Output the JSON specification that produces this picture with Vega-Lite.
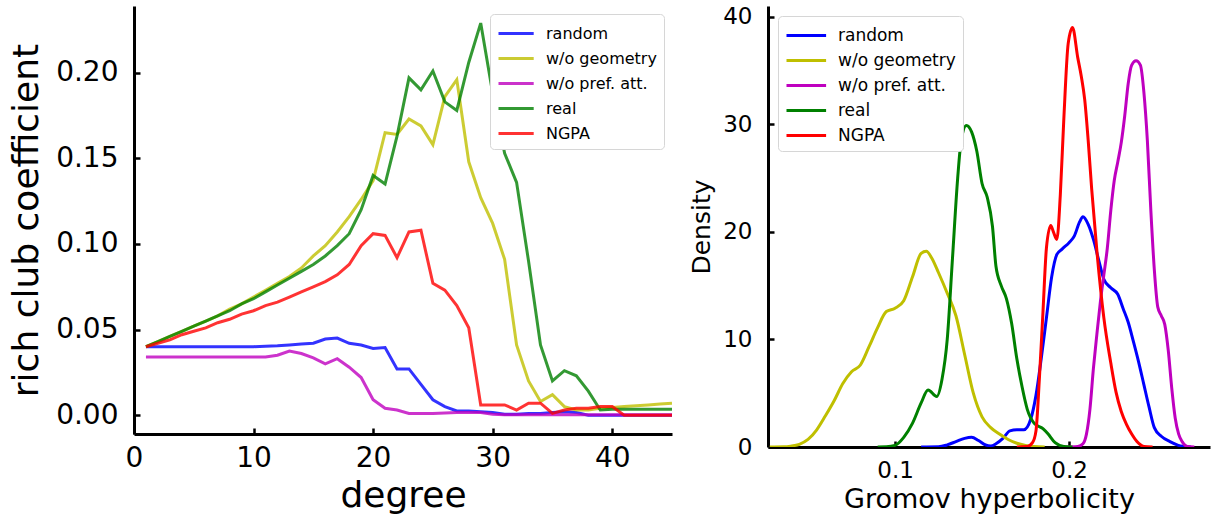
{
  "$schema": "https://vega.github.io/schema/vega-lite/v6.json",
  "padding": {"left": 8, "top": 5, "right": 4, "bottom": 4},
  "background": "white",
  "spacing": 96,
  "bounds": "flush",
  "config": {
    "font": "DejaVu Sans",
    "view": {"stroke": null},
    "axis": {"grid": false, "domainColor": "black", "domainWidth": 3, "tickColor": "black", "tickWidth": 2.5, "tickSize": -6, "labelColor": "black", "titleColor": "black", "titleFontWeight": "normal", "labelFont": "DejaVu Sans", "titleFont": "DejaVu Sans"},
    "legend": {"labelFont": "DejaVu Sans", "labelColor": "black"}
  },
  "resolve": {"scale": {"color": "independent"}, "legend": {"color": "independent"}},
  "datasets": {
    "rc": [
      {"deg":1,"model":"random","v":0.040},{"deg":2,"model":"random","v":0.040},{"deg":3,"model":"random","v":0.040},{"deg":4,"model":"random","v":0.040},{"deg":5,"model":"random","v":0.040},{"deg":6,"model":"random","v":0.040},{"deg":7,"model":"random","v":0.040},{"deg":8,"model":"random","v":0.040},{"deg":9,"model":"random","v":0.040},{"deg":10,"model":"random","v":0.040},{"deg":11,"model":"random","v":0.0402},{"deg":12,"model":"random","v":0.0405},{"deg":13,"model":"random","v":0.041},{"deg":14,"model":"random","v":0.0415},{"deg":15,"model":"random","v":0.042},{"deg":16,"model":"random","v":0.0445},{"deg":17,"model":"random","v":0.045},{"deg":18,"model":"random","v":0.042},{"deg":19,"model":"random","v":0.041},{"deg":20,"model":"random","v":0.039},{"deg":21,"model":"random","v":0.0395},{"deg":22,"model":"random","v":0.027},{"deg":23,"model":"random","v":0.027},{"deg":24,"model":"random","v":0.018},{"deg":25,"model":"random","v":0.009},{"deg":26,"model":"random","v":0.005},{"deg":27,"model":"random","v":0.0025},{"deg":28,"model":"random","v":0.0025},{"deg":29,"model":"random","v":0.002},{"deg":30,"model":"random","v":0.0015},{"deg":31,"model":"random","v":0.0005},{"deg":32,"model":"random","v":0.0005},{"deg":33,"model":"random","v":0.001},{"deg":34,"model":"random","v":0.001},{"deg":35,"model":"random","v":0.0015},{"deg":36,"model":"random","v":0.002},{"deg":37,"model":"random","v":0.0015},{"deg":38,"model":"random","v":0},{"deg":39,"model":"random","v":0},{"deg":40,"model":"random","v":0},{"deg":41,"model":"random","v":0},{"deg":42,"model":"random","v":0},{"deg":43,"model":"random","v":0},{"deg":44,"model":"random","v":0},{"deg":45,"model":"random","v":0},
      {"deg":1,"model":"w/o geometry","v":0.040},{"deg":2,"model":"w/o geometry","v":0.043},{"deg":3,"model":"w/o geometry","v":0.046},{"deg":4,"model":"w/o geometry","v":0.049},{"deg":5,"model":"w/o geometry","v":0.052},{"deg":6,"model":"w/o geometry","v":0.055},{"deg":7,"model":"w/o geometry","v":0.058},{"deg":8,"model":"w/o geometry","v":0.062},{"deg":9,"model":"w/o geometry","v":0.065},{"deg":10,"model":"w/o geometry","v":0.069},{"deg":11,"model":"w/o geometry","v":0.073},{"deg":12,"model":"w/o geometry","v":0.077},{"deg":13,"model":"w/o geometry","v":0.081},{"deg":14,"model":"w/o geometry","v":0.086},{"deg":15,"model":"w/o geometry","v":0.093},{"deg":16,"model":"w/o geometry","v":0.099},{"deg":17,"model":"w/o geometry","v":0.107},{"deg":18,"model":"w/o geometry","v":0.116},{"deg":19,"model":"w/o geometry","v":0.126},{"deg":20,"model":"w/o geometry","v":0.137},{"deg":21,"model":"w/o geometry","v":0.165},{"deg":22,"model":"w/o geometry","v":0.164},{"deg":23,"model":"w/o geometry","v":0.173},{"deg":24,"model":"w/o geometry","v":0.169},{"deg":25,"model":"w/o geometry","v":0.158},{"deg":26,"model":"w/o geometry","v":0.186},{"deg":27,"model":"w/o geometry","v":0.196},{"deg":28,"model":"w/o geometry","v":0.148},{"deg":29,"model":"w/o geometry","v":0.127},{"deg":30,"model":"w/o geometry","v":0.112},{"deg":31,"model":"w/o geometry","v":0.091},{"deg":32,"model":"w/o geometry","v":0.041},{"deg":33,"model":"w/o geometry","v":0.020},{"deg":34,"model":"w/o geometry","v":0.008},{"deg":35,"model":"w/o geometry","v":0.012},{"deg":36,"model":"w/o geometry","v":0.005},{"deg":37,"model":"w/o geometry","v":0.003},{"deg":38,"model":"w/o geometry","v":0.003},{"deg":39,"model":"w/o geometry","v":0.004},{"deg":40,"model":"w/o geometry","v":0.0045},{"deg":41,"model":"w/o geometry","v":0.005},{"deg":42,"model":"w/o geometry","v":0.0055},{"deg":43,"model":"w/o geometry","v":0.006},{"deg":44,"model":"w/o geometry","v":0.0065},{"deg":45,"model":"w/o geometry","v":0.007},
      {"deg":1,"model":"w/o pref. att.","v":0.034},{"deg":2,"model":"w/o pref. att.","v":0.034},{"deg":3,"model":"w/o pref. att.","v":0.034},{"deg":4,"model":"w/o pref. att.","v":0.034},{"deg":5,"model":"w/o pref. att.","v":0.034},{"deg":6,"model":"w/o pref. att.","v":0.034},{"deg":7,"model":"w/o pref. att.","v":0.034},{"deg":8,"model":"w/o pref. att.","v":0.034},{"deg":9,"model":"w/o pref. att.","v":0.034},{"deg":10,"model":"w/o pref. att.","v":0.034},{"deg":11,"model":"w/o pref. att.","v":0.034},{"deg":12,"model":"w/o pref. att.","v":0.035},{"deg":13,"model":"w/o pref. att.","v":0.0375},{"deg":14,"model":"w/o pref. att.","v":0.036},{"deg":15,"model":"w/o pref. att.","v":0.0335},{"deg":16,"model":"w/o pref. att.","v":0.030},{"deg":17,"model":"w/o pref. att.","v":0.033},{"deg":18,"model":"w/o pref. att.","v":0.028},{"deg":19,"model":"w/o pref. att.","v":0.022},{"deg":20,"model":"w/o pref. att.","v":0.009},{"deg":21,"model":"w/o pref. att.","v":0.004},{"deg":22,"model":"w/o pref. att.","v":0.003},{"deg":23,"model":"w/o pref. att.","v":0.001},{"deg":24,"model":"w/o pref. att.","v":0.001},{"deg":25,"model":"w/o pref. att.","v":0.001},{"deg":26,"model":"w/o pref. att.","v":0.0012},{"deg":27,"model":"w/o pref. att.","v":0.0015},{"deg":28,"model":"w/o pref. att.","v":0.0015},{"deg":29,"model":"w/o pref. att.","v":0.0015},{"deg":30,"model":"w/o pref. att.","v":0.0005},{"deg":31,"model":"w/o pref. att.","v":0.0003},{"deg":32,"model":"w/o pref. att.","v":0.0003},{"deg":33,"model":"w/o pref. att.","v":0.0003},{"deg":34,"model":"w/o pref. att.","v":0.0003},{"deg":35,"model":"w/o pref. att.","v":0.0003},{"deg":36,"model":"w/o pref. att.","v":0.0003},{"deg":37,"model":"w/o pref. att.","v":0.0003},{"deg":38,"model":"w/o pref. att.","v":0.0003},{"deg":39,"model":"w/o pref. att.","v":0.0003},{"deg":40,"model":"w/o pref. att.","v":0.0003},{"deg":41,"model":"w/o pref. att.","v":0.0003},{"deg":42,"model":"w/o pref. att.","v":0.0003},{"deg":43,"model":"w/o pref. att.","v":0.0003},{"deg":44,"model":"w/o pref. att.","v":0.0003},{"deg":45,"model":"w/o pref. att.","v":0.0003},
      {"deg":1,"model":"real","v":0.040},{"deg":2,"model":"real","v":0.043},{"deg":3,"model":"real","v":0.046},{"deg":4,"model":"real","v":0.049},{"deg":5,"model":"real","v":0.052},{"deg":6,"model":"real","v":0.055},{"deg":7,"model":"real","v":0.058},{"deg":8,"model":"real","v":0.061},{"deg":9,"model":"real","v":0.065},{"deg":10,"model":"real","v":0.068},{"deg":11,"model":"real","v":0.072},{"deg":12,"model":"real","v":0.076},{"deg":13,"model":"real","v":0.080},{"deg":14,"model":"real","v":0.084},{"deg":15,"model":"real","v":0.088},{"deg":16,"model":"real","v":0.093},{"deg":17,"model":"real","v":0.099},{"deg":18,"model":"real","v":0.106},{"deg":19,"model":"real","v":0.120},{"deg":20,"model":"real","v":0.140},{"deg":21,"model":"real","v":0.135},{"deg":22,"model":"real","v":0.163},{"deg":23,"model":"real","v":0.197},{"deg":24,"model":"real","v":0.190},{"deg":25,"model":"real","v":0.201},{"deg":26,"model":"real","v":0.183},{"deg":27,"model":"real","v":0.178},{"deg":28,"model":"real","v":0.206},{"deg":29,"model":"real","v":0.229},{"deg":30,"model":"real","v":0.188},{"deg":31,"model":"real","v":0.153},{"deg":32,"model":"real","v":0.136},{"deg":33,"model":"real","v":0.090},{"deg":34,"model":"real","v":0.041},{"deg":35,"model":"real","v":0.020},{"deg":36,"model":"real","v":0.026},{"deg":37,"model":"real","v":0.023},{"deg":38,"model":"real","v":0.014},{"deg":39,"model":"real","v":0.003},{"deg":40,"model":"real","v":0.0035},{"deg":41,"model":"real","v":0.0035},{"deg":42,"model":"real","v":0.0035},{"deg":43,"model":"real","v":0.0035},{"deg":44,"model":"real","v":0.0035},{"deg":45,"model":"real","v":0.0035},
      {"deg":1,"model":"NGPA","v":0.040},{"deg":2,"model":"NGPA","v":0.042},{"deg":3,"model":"NGPA","v":0.044},{"deg":4,"model":"NGPA","v":0.047},{"deg":5,"model":"NGPA","v":0.049},{"deg":6,"model":"NGPA","v":0.051},{"deg":7,"model":"NGPA","v":0.054},{"deg":8,"model":"NGPA","v":0.056},{"deg":9,"model":"NGPA","v":0.059},{"deg":10,"model":"NGPA","v":0.061},{"deg":11,"model":"NGPA","v":0.064},{"deg":12,"model":"NGPA","v":0.066},{"deg":13,"model":"NGPA","v":0.069},{"deg":14,"model":"NGPA","v":0.072},{"deg":15,"model":"NGPA","v":0.075},{"deg":16,"model":"NGPA","v":0.078},{"deg":17,"model":"NGPA","v":0.082},{"deg":18,"model":"NGPA","v":0.088},{"deg":19,"model":"NGPA","v":0.099},{"deg":20,"model":"NGPA","v":0.106},{"deg":21,"model":"NGPA","v":0.105},{"deg":22,"model":"NGPA","v":0.092},{"deg":23,"model":"NGPA","v":0.107},{"deg":24,"model":"NGPA","v":0.108},{"deg":25,"model":"NGPA","v":0.077},{"deg":26,"model":"NGPA","v":0.073},{"deg":27,"model":"NGPA","v":0.064},{"deg":28,"model":"NGPA","v":0.051},{"deg":29,"model":"NGPA","v":0.006},{"deg":30,"model":"NGPA","v":0.006},{"deg":31,"model":"NGPA","v":0.006},{"deg":32,"model":"NGPA","v":0.003},{"deg":33,"model":"NGPA","v":0.007},{"deg":34,"model":"NGPA","v":0.007},{"deg":35,"model":"NGPA","v":0.001},{"deg":36,"model":"NGPA","v":0.003},{"deg":37,"model":"NGPA","v":0.004},{"deg":38,"model":"NGPA","v":0.004},{"deg":39,"model":"NGPA","v":0.005},{"deg":40,"model":"NGPA","v":0.005},{"deg":41,"model":"NGPA","v":0},{"deg":42,"model":"NGPA","v":0},{"deg":43,"model":"NGPA","v":0},{"deg":44,"model":"NGPA","v":0},{"deg":45,"model":"NGPA","v":0}
    ],
    "kde": [
      {"x":0.115,"model":"random","d":0},{"x":0.125,"model":"random","d":0.02},{"x":0.130,"model":"random","d":0.2},{"x":0.135,"model":"random","d":0.5},{"x":0.140,"model":"random","d":0.8},{"x":0.144,"model":"random","d":0.9},{"x":0.148,"model":"random","d":0.6},{"x":0.152,"model":"random","d":0.2},{"x":0.155,"model":"random","d":0.1},{"x":0.158,"model":"random","d":0.3},{"x":0.162,"model":"random","d":0.8},{"x":0.166,"model":"random","d":1.5},{"x":0.170,"model":"random","d":1.6},{"x":0.174,"model":"random","d":1.6},{"x":0.178,"model":"random","d":2.6},{"x":0.181,"model":"random","d":4.8},{"x":0.184,"model":"random","d":8.2},{"x":0.187,"model":"random","d":12.0},{"x":0.190,"model":"random","d":15.8},{"x":0.193,"model":"random","d":17.9},{"x":0.196,"model":"random","d":18.4},{"x":0.200,"model":"random","d":19.0},{"x":0.203,"model":"random","d":19.6},{"x":0.206,"model":"random","d":20.9},{"x":0.208,"model":"random","d":21.4},{"x":0.211,"model":"random","d":20.7},{"x":0.214,"model":"random","d":19.3},{"x":0.217,"model":"random","d":17.4},{"x":0.220,"model":"random","d":15.6},{"x":0.224,"model":"random","d":14.8},{"x":0.228,"model":"random","d":14.2},{"x":0.231,"model":"random","d":12.9},{"x":0.234,"model":"random","d":11.6},{"x":0.237,"model":"random","d":9.8},{"x":0.240,"model":"random","d":7.9},{"x":0.243,"model":"random","d":5.8},{"x":0.246,"model":"random","d":3.7},{"x":0.249,"model":"random","d":1.8},{"x":0.253,"model":"random","d":1.0},{"x":0.258,"model":"random","d":0.5},{"x":0.264,"model":"random","d":0.1},{"x":0.270,"model":"random","d":0},
      {"x":0.028,"model":"w/o geometry","d":0},{"x":0.036,"model":"w/o geometry","d":0.02},{"x":0.040,"model":"w/o geometry","d":0.08},{"x":0.045,"model":"w/o geometry","d":0.25},{"x":0.050,"model":"w/o geometry","d":0.7},{"x":0.055,"model":"w/o geometry","d":1.6},{"x":0.060,"model":"w/o geometry","d":2.9},{"x":0.065,"model":"w/o geometry","d":4.3},{"x":0.070,"model":"w/o geometry","d":5.9},{"x":0.075,"model":"w/o geometry","d":7.0},{"x":0.080,"model":"w/o geometry","d":7.6},{"x":0.085,"model":"w/o geometry","d":9.3},{"x":0.090,"model":"w/o geometry","d":11.1},{"x":0.095,"model":"w/o geometry","d":12.6},{"x":0.100,"model":"w/o geometry","d":12.9},{"x":0.105,"model":"w/o geometry","d":13.6},{"x":0.110,"model":"w/o geometry","d":15.8},{"x":0.115,"model":"w/o geometry","d":18.0},{"x":0.118,"model":"w/o geometry","d":18.2},{"x":0.121,"model":"w/o geometry","d":17.6},{"x":0.125,"model":"w/o geometry","d":16.2},{"x":0.130,"model":"w/o geometry","d":14.3},{"x":0.135,"model":"w/o geometry","d":12.2},{"x":0.140,"model":"w/o geometry","d":8.6},{"x":0.145,"model":"w/o geometry","d":5.0},{"x":0.150,"model":"w/o geometry","d":2.8},{"x":0.155,"model":"w/o geometry","d":1.8},{"x":0.160,"model":"w/o geometry","d":1.2},{"x":0.165,"model":"w/o geometry","d":0.7},{"x":0.170,"model":"w/o geometry","d":0.35},{"x":0.175,"model":"w/o geometry","d":0.15},{"x":0.180,"model":"w/o geometry","d":0.04},{"x":0.186,"model":"w/o geometry","d":0},
      {"x":0.198,"model":"w/o pref. att.","d":0},{"x":0.205,"model":"w/o pref. att.","d":0.05},{"x":0.208,"model":"w/o pref. att.","d":0.3},{"x":0.210,"model":"w/o pref. att.","d":1.2},{"x":0.212,"model":"w/o pref. att.","d":3.5},{"x":0.214,"model":"w/o pref. att.","d":7.3},{"x":0.216,"model":"w/o pref. att.","d":10.5},{"x":0.218,"model":"w/o pref. att.","d":13.5},{"x":0.220,"model":"w/o pref. att.","d":16.0},{"x":0.222,"model":"w/o pref. att.","d":18.5},{"x":0.224,"model":"w/o pref. att.","d":22.0},{"x":0.226,"model":"w/o pref. att.","d":24.8},{"x":0.228,"model":"w/o pref. att.","d":26.5},{"x":0.230,"model":"w/o pref. att.","d":28.3},{"x":0.232,"model":"w/o pref. att.","d":30.8},{"x":0.234,"model":"w/o pref. att.","d":33.8},{"x":0.236,"model":"w/o pref. att.","d":35.5},{"x":0.2385,"model":"w/o pref. att.","d":35.9},{"x":0.241,"model":"w/o pref. att.","d":35.5},{"x":0.243,"model":"w/o pref. att.","d":33.0},{"x":0.245,"model":"w/o pref. att.","d":28.5},{"x":0.247,"model":"w/o pref. att.","d":22.0},{"x":0.249,"model":"w/o pref. att.","d":16.5},{"x":0.251,"model":"w/o pref. att.","d":13.0},{"x":0.253,"model":"w/o pref. att.","d":12.2},{"x":0.255,"model":"w/o pref. att.","d":11.4},{"x":0.257,"model":"w/o pref. att.","d":9.0},{"x":0.259,"model":"w/o pref. att.","d":5.5},{"x":0.261,"model":"w/o pref. att.","d":2.7},{"x":0.263,"model":"w/o pref. att.","d":1.2},{"x":0.265,"model":"w/o pref. att.","d":0.5},{"x":0.268,"model":"w/o pref. att.","d":0.05},{"x":0.272,"model":"w/o pref. att.","d":0},
      {"x":0.090,"model":"real","d":0},{"x":0.095,"model":"real","d":0.02},{"x":0.100,"model":"real","d":0.15},{"x":0.105,"model":"real","d":0.9},{"x":0.110,"model":"real","d":2.2},{"x":0.115,"model":"real","d":4.1},{"x":0.119,"model":"real","d":5.3},{"x":0.124,"model":"real","d":4.7},{"x":0.127,"model":"real","d":6.3},{"x":0.130,"model":"real","d":10.0},{"x":0.133,"model":"real","d":17.5},{"x":0.136,"model":"real","d":25.0},{"x":0.138,"model":"real","d":28.5},{"x":0.141,"model":"real","d":29.9},{"x":0.144,"model":"real","d":29.3},{"x":0.147,"model":"real","d":27.5},{"x":0.150,"model":"real","d":24.5},{"x":0.153,"model":"real","d":23.2},{"x":0.156,"model":"real","d":20.5},{"x":0.158,"model":"real","d":16.8},{"x":0.161,"model":"real","d":15.0},{"x":0.164,"model":"real","d":13.8},{"x":0.167,"model":"real","d":11.5},{"x":0.170,"model":"real","d":8.2},{"x":0.173,"model":"real","d":5.6},{"x":0.176,"model":"real","d":3.5},{"x":0.180,"model":"real","d":2.2},{"x":0.185,"model":"real","d":1.7},{"x":0.188,"model":"real","d":1.2},{"x":0.192,"model":"real","d":0.4},{"x":0.197,"model":"real","d":0.05},{"x":0.202,"model":"real","d":0},
      {"x":0.170,"model":"NGPA","d":0},{"x":0.176,"model":"NGPA","d":0.05},{"x":0.179,"model":"NGPA","d":0.4},{"x":0.181,"model":"NGPA","d":1.5},{"x":0.183,"model":"NGPA","d":6.5},{"x":0.185,"model":"NGPA","d":12.5},{"x":0.187,"model":"NGPA","d":18.5},{"x":0.1895,"model":"NGPA","d":20.6},{"x":0.191,"model":"NGPA","d":20.0},{"x":0.193,"model":"NGPA","d":19.3},{"x":0.195,"model":"NGPA","d":23.5},{"x":0.197,"model":"NGPA","d":30.5},{"x":0.1995,"model":"NGPA","d":37.5},{"x":0.202,"model":"NGPA","d":39.0},{"x":0.205,"model":"NGPA","d":36.2},{"x":0.207,"model":"NGPA","d":34.5},{"x":0.209,"model":"NGPA","d":32.3},{"x":0.211,"model":"NGPA","d":28.5},{"x":0.213,"model":"NGPA","d":24.0},{"x":0.216,"model":"NGPA","d":18.2},{"x":0.220,"model":"NGPA","d":12.0},{"x":0.224,"model":"NGPA","d":7.8},{"x":0.227,"model":"NGPA","d":5.1},{"x":0.230,"model":"NGPA","d":3.3},{"x":0.233,"model":"NGPA","d":2.1},{"x":0.236,"model":"NGPA","d":1.2},{"x":0.239,"model":"NGPA","d":0.5},{"x":0.243,"model":"NGPA","d":0.05},{"x":0.248,"model":"NGPA","d":0}
    ]
  },
  "hconcat": [
    {
      "width": 538,
      "height": 428,
      "data": {"name": "rc"},
      "mark": {"type": "line", "strokeWidth": 3, "opacity": 0.8, "clip": true},
      "encoding": {
        "x": {"field": "deg", "type": "quantitative", "scale": {"domain": [0, 45], "nice": false, "zero": false},
          "axis": {"title": "degree", "values": [0, 10, 20, 30, 40], "labelFontSize": 28, "titleFontSize": 36, "labelPadding": 16, "titlePadding": 6, "labelFlush": false}},
        "y": {"field": "v", "type": "quantitative", "scale": {"domain": [-0.011, 0.239], "nice": false, "zero": false},
          "axis": {"title": "rich club coefficient", "values": [0, 0.05, 0.1, 0.15, 0.2], "format": ".2f", "labelFontSize": 28, "titleFontSize": 36, "labelPadding": 22, "titlePadding": 10}},
        "color": {"field": "model", "type": "nominal", "sort": null,
          "scale": {"domain": ["random", "w/o geometry", "w/o pref. att.", "real", "NGPA"], "range": ["#0000ff", "#bfbf00", "#bf00bf", "#008000", "#ff0000"]},
          "legend": {"title": null, "orient": "top-right", "offset": 8, "fillColor": "white", "strokeColor": "#d6d6d6", "cornerRadius": 4, "padding": 7, "labelFontSize": 16, "symbolType": "M-1,0H2.2", "symbolSize": 484, "symbolStrokeWidth": 3, "labelOffset": 24, "rowPadding": 4}}
      }
    },
    {
      "width": 442,
      "height": 441,
      "data": {"name": "kde"},
      "mark": {"type": "line", "strokeWidth": 3, "interpolate": "monotone", "clip": true},
      "encoding": {
        "x": {"field": "x", "type": "quantitative", "scale": {"domain": [0.027, 0.281], "nice": false, "zero": false},
          "axis": {"title": "Gromov hyperbolicity", "values": [0.1, 0.2], "format": ".1f", "labelFontSize": 23, "titleFontSize": 27, "labelPadding": 18, "titlePadding": 4}},
        "y": {"field": "d", "type": "quantitative", "scale": {"domain": [0, 41], "nice": false},
          "axis": {"title": "Density", "values": [0, 10, 20, 30, 40], "labelFontSize": 23, "titleFontSize": 25, "labelPadding": 22, "titlePadding": 8}},
        "color": {"field": "model", "type": "nominal", "sort": null,
          "scale": {"domain": ["random", "w/o geometry", "w/o pref. att.", "real", "NGPA"], "range": ["#0000ff", "#bfbf00", "#bf00bf", "#008000", "#ff0000"]},
          "legend": {"title": null, "orient": "top-left", "offset": 10, "fillColor": "white", "strokeColor": "#d6d6d6", "cornerRadius": 4, "padding": 7, "labelFontSize": 17, "symbolType": "M-1,0H2.6", "symbolSize": 484, "symbolStrokeWidth": 3, "labelOffset": 28, "rowPadding": 4}}
      }
    }
  ]
}
